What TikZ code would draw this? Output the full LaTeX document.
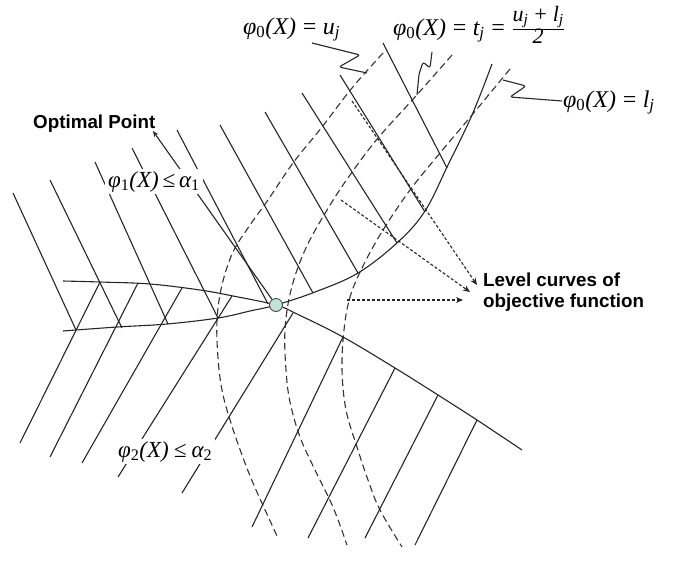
\documentclass[tikz,border=0pt]{standalone}
\usepackage{fontspec}
\setsansfont{Liberation Sans}
\newfontfamily\tms{Liberation Serif}
\usetikzlibrary{arrows.meta}
\newcommand{\qsp}{\hspace{0.22em}}
\begin{document}
\begin{tikzpicture}[x=1pt,y=-1pt,
  ln/.style={line width=1.1pt, draw=black!85},
  lvl/.style={line width=1.1pt, draw=black!80, dash pattern=on 7pt off 4pt},
  ptr/.style={line width=1.1pt, draw=black!85, dash pattern=on 3pt off 2pt, -{Stealth[length=7pt,width=6pt]}},
  sq/.style={line width=1.1pt, draw=black!85, rounded corners=2.5pt},
  mlab/.style={font=\fontsize{24}{28}\selectfont\tms\itshape, inner sep=0pt, anchor=base west},
  gaplab/.style={font=\fontsize{23}{27}\selectfont\tms\itshape, inner xsep=3pt, inner ysep=2pt, anchor=base west, fill=white},
  blab/.style={font=\fontsize{18.8}{21}\selectfont\sffamily\bfseries, anchor=base west, inner sep=0pt, align=left},
]
\useasboundingbox (0,0) rectangle (690,560);

% level curves of the objective function (dashed)
\draw[lvl] plot[smooth,tension=0.6] coordinates {(383,53) (352,88) (322,127) (293,163) (268,200) (250,225) (233,252) (222,285) (217,320) (218,358) (222,390) (230,420) (242,455) (253,483) (266,512) (278,538)};
\draw[lvl] plot[smooth,tension=0.6] coordinates {(452,55) (415,97) (378,138) (350,175) (327,210) (305,250) (291,290) (285,330) (286,370) (290,402) (300,437) (315,470) (333,507) (347,545)};
\draw[lvl] plot[smooth,tension=0.6] coordinates {(510,69) (472,115) (440,153) (410,190) (383,230) (363,266) (350,297) (344,330) (342,370) (346,410) (357,447) (368,480) (380,510) (402,547)};

% constraint boundaries
\draw[ln] plot[smooth,tension=0.6] coordinates {(63,331) (117,327) (167,324) (218,318) (250,311) (276,305) (315,292) (358,273) (398,242) (425,211) (448,165) (472,115) (492,64)};
\draw[ln] plot[smooth,tension=0.6] coordinates {(63,281) (100,282) (150,284) (200,290) (233,296) (276,305) (297,314) (343,337) (395,368) (438,395) (477,420) (522,450)};

% hatching of phi_1 region
\draw[ln] (13,193) -- (76,330);
\draw[ln] (50,180) -- (122,328);
\draw[ln] (95,162) -- (168,324);
\draw[ln] (132,148) -- (218,318);
\draw[ln] (177,130) -- (268,304);
\draw[ln] (220,125) -- (313,293);
\draw[ln] (265,112) -- (358,273);
\draw[ln] (302,93) -- (397,243);
\draw[ln] (340,75) -- (425,212);
\draw[ln] (383,43) -- (447,168);

% hatching of phi_2 region
\draw[ln] (100,282) -- (20,443);
\draw[ln] (138,283) -- (50,457);
\draw[ln] (182,288) -- (82,463);
\draw[ln] (232,296) -- (118,477);
\draw[ln] (293,313) -- (182,493);
\draw[ln] (343,337) -- (252,527);
\draw[ln] (395,368) -- (308,538);
\draw[ln] (438,395) -- (365,538);
\draw[ln] (477,420) -- (415,545);

% optimal point
\node[circle, draw=black!70, fill={rgb,255:red,190;green,228;blue,210}, line width=0.9pt, minimum size=13pt, inner sep=0pt] (opt) at (276,305) {};
\coordinate (opttip) at (153,131);
\draw[ln, -{Stealth[length=6pt,width=5pt]}] (opt) -- (opttip);

% squiggles to the level-curve labels
\draw[sq] (312,43) -- (360,55) -- (339,67) -- (367,73);
\draw[sq] (432,52) -- (430,68) -- (423,62) -- (419,74) -- (417,95);
\draw[sq] (562,101) -- (510,97) -- (526,86) -- (503,80);

% dotted pointers
\coordinate (p1) at (352,101);
\coordinate (p2) at (341,200);
\coordinate (p3) at (347,300);
\coordinate (q1) at (477,285);
\coordinate (q2) at (470,292);
\coordinate (q3) at (463,300);
\draw[ptr] (p1) -- (q1);
\draw[ptr] (p2) -- (q2);
\draw[ptr] (p3) -- (q3);

% labels
\node[blab] (optlbl) at (33,128) {Optimal Point};
\node[blab] (lvllbl) at (483,307) {Level curves of\\objective function};

\node[mlab] (uj) at (243,34) {φ\textsubscript{\upshape 0}(X)\qsp=\qsp u\textsubscript{j}};
\node[mlab] (tj) at (393,35) {φ\textsubscript{\upshape 0}(X)\qsp=\qsp t\textsubscript{j}\qsp=\qsp$\textstyle\frac{\mbox{\fontsize{22}{26}\selectfont\tms\itshape u\textsubscript{j}\qsp+\qsp l\textsubscript{j}}}{\mbox{\fontsize{22}{26}\selectfont\tms 2}}$};
\node[mlab] (lj) at (563,107) {φ\textsubscript{\upshape 0}(X)\qsp=\qsp l\textsubscript{j}};

\node[gaplab] (c1) at (105,187) {φ\textsubscript{\upshape 1}(X)\,≤\,α\textsubscript{\upshape 1}};
\node[gaplab] (c2) at (115,457) {φ\textsubscript{\upshape 2}(X)\qsp≤\qsp α\textsubscript{\upshape 2}};
\end{tikzpicture}
\end{document}
